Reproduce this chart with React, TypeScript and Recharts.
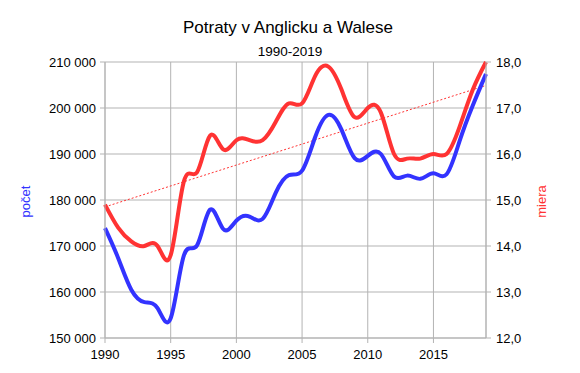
import React from 'react';
import { LineChart, Line, XAxis, YAxis, CartesianGrid } from 'recharts';

const years = [1990, 1991, 1992, 1993, 1994, 1995, 1996, 1997, 1998, 1999, 2000, 2001, 2002, 2003, 2004, 2005, 2006, 2007, 2008, 2009, 2010, 2011, 2012, 2013, 2014, 2015, 2016, 2017, 2018, 2019];
const pocet = [173900, 167400, 160500, 157800, 156500, 154300, 167900, 170100, 177900, 173700, 175500, 176400, 175900, 181600, 185400, 186400, 193700, 198500, 195300, 189100, 189600, 190000, 185100, 185300, 184600, 185800, 185600, 192900, 200600, 207400];
const miera = [14.9, 14.4, 14.1, 14.0, 14.0, 13.8, 15.4, 15.6, 16.4, 16.1, 16.3, 16.3, 16.3, 16.7, 17.1, 17.1, 17.7, 17.9, 17.4, 16.8, 17.0, 16.9, 16.0, 15.9, 15.9, 16.0, 16.0, 16.6, 17.4, 18.0];
const trendStart = 14.85;
const trendEnd = 17.49;

const xTicks = [1990, 1995, 2000, 2005, 2010, 2015];
const leftTicks = [150000, 160000, 170000, 180000, 190000, 200000, 210000];
const rightTicks = [12, 13, 14, 15, 16, 17, 18];

const title = 'Potraty v Anglicku a Walese';
const subtitle = '1990-2019';
const leftLabel = 'počet';
const rightLabel = 'miera';

const data = years.map((y, i) => ({
  year: y,
  pocet: pocet[i],
  miera: miera[i],
  trend: i === 0 ? trendStart : i === years.length - 1 ? trendEnd : null,
}));

const BLUE = '#3333ff';
const RED = '#ff3333';
const GRID = '#b3b3b3';
const FONT = "'Liberation Sans', Arial, sans-serif";

const fmtLeft = (v: number) => {
  const s = String(Math.round(v));
  return s.replace(/\B(?=(\d{3})+(?!\d))/g, ' ');
};
const fmtRight = (v: number) => v.toFixed(1).replace('.', ',');

const tickStyle = { fontFamily: FONT, fontSize: 13, fill: '#000' };

export default function App() {
  return (
    <div style={{ position: 'absolute', left: 0, top: 0, width: 580, height: 373, background: '#fff' }}>
      <LineChart width={580} height={373} data={data} margin={{ top: 62, right: 0, left: 0, bottom: 0 }}>
        <CartesianGrid yAxisId="left" stroke={GRID} strokeWidth={1} />
        <XAxis
          dataKey="year"
          type="number"
          domain={[1990, 2019]}
          ticks={xTicks}
          height={35}
          tickSize={5}
          tickMargin={7}
          stroke={GRID}
          tick={tickStyle}
          tickLine={{ stroke: GRID }}
          axisLine={{ stroke: GRID }}
          interval={0}
        />
        <YAxis
          yAxisId="left"
          orientation="left"
          domain={[150000, 210000]}
          ticks={leftTicks}
          width={105}
          tickSize={5}
          tickMargin={4}
          tickFormatter={fmtLeft}
          tick={tickStyle}
          tickLine={{ stroke: GRID }}
          axisLine={{ stroke: GRID }}
          interval={0}
        />
        <YAxis
          yAxisId="right"
          orientation="right"
          domain={[12, 18]}
          ticks={rightTicks}
          width={94}
          tickSize={5}
          tickMargin={5}
          tickFormatter={fmtRight}
          tick={tickStyle}
          tickLine={{ stroke: GRID }}
          axisLine={{ stroke: GRID }}
          interval={0}
        />
        <Line
          yAxisId="right"
          dataKey="trend"
          type="linear"
          stroke={RED}
          strokeWidth={1}
          strokeDasharray="2 2"
          dot={false}
          connectNulls
          isAnimationActive={false}
        />
        <Line
          yAxisId="left"
          dataKey="pocet"
          type="natural"
          stroke={BLUE}
          strokeWidth={4}
          dot={false}
          isAnimationActive={false}
        />
        <Line
          yAxisId="right"
          dataKey="miera"
          type="natural"
          stroke={RED}
          strokeWidth={4}
          dot={false}
          isAnimationActive={false}
        />
      </LineChart>
      <svg width={580} height={373} style={{ position: 'absolute', left: 0, top: 0, pointerEvents: 'none' }}>
        <text x={288} y={33.3} textAnchor="middle" fontFamily={FONT} fontSize={17} fill="#000">{title}</text>
        <text x={290} y={55.7} textAnchor="middle" fontFamily={FONT} fontSize={13.5} fill="#000">{subtitle}</text>
        <text x={30} y={201.5} textAnchor="middle" fontFamily={FONT} fontSize={13} fill={BLUE} transform="rotate(-90, 30, 201.5)">{leftLabel}</text>
        <text x={546} y={201.5} textAnchor="middle" fontFamily={FONT} fontSize={13} fill={RED} transform="rotate(-90, 546, 201.5)">{rightLabel}</text>
      </svg>
    </div>
  );
}
